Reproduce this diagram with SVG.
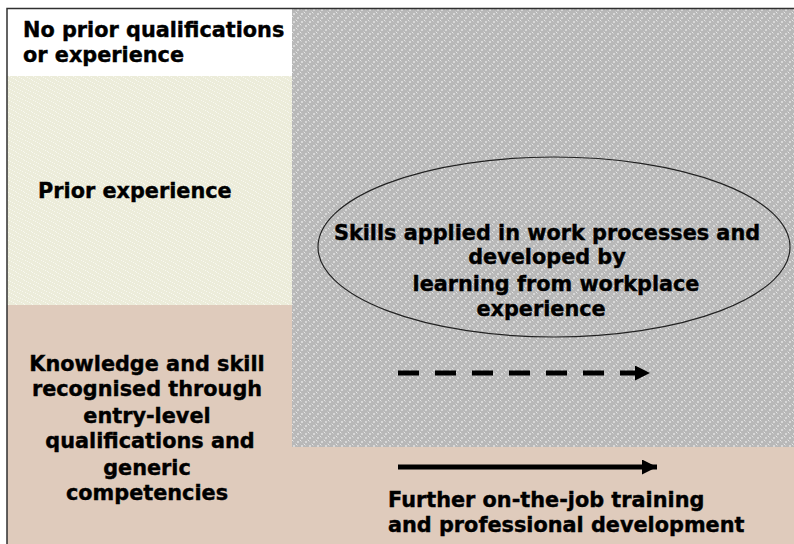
<svg xmlns="http://www.w3.org/2000/svg" width="794" height="544" viewBox="0 0 794 544">
<defs>
<pattern id="grey" width="8" height="8" patternUnits="userSpaceOnUse">
<rect width="8" height="8" fill="#b8b8b8"/>
<rect x="1" y="1" width="2" height="2" fill="#d8d8d8"/>
<rect x="5" y="5" width="2" height="2" fill="#d8d8d8"/>
<rect x="5" y="1" width="1" height="1" fill="#cccccc"/>
<rect x="1" y="5" width="1" height="1" fill="#cccccc"/>
<rect x="0" y="4" width="1" height="1" fill="#e8e8e8"/>
<rect x="4" y="0" width="1" height="1" fill="#e8e8e8"/>
<rect x="7" y="3" width="1" height="1" fill="#c8c8c8"/>
<rect x="3" y="7" width="1" height="1" fill="#c8c8c8"/>
</pattern>
<pattern id="green" width="8" height="8" patternUnits="userSpaceOnUse">
<rect width="8" height="8" fill="#ececda"/>
<rect x="0" y="0" width="1" height="1" fill="#f8f8f0"/>
<rect x="2" y="1" width="1" height="1" fill="#f8f8f0"/>
<rect x="4" y="2" width="1" height="1" fill="#f8f8f0"/>
<rect x="6" y="3" width="1" height="1" fill="#f8f8f0"/>
<rect x="1" y="4" width="1" height="1" fill="#f8f8f0"/>
<rect x="3" y="5" width="1" height="1" fill="#f8f8f0"/>
<rect x="5" y="6" width="1" height="1" fill="#f8f8f0"/>
<rect x="7" y="7" width="1" height="1" fill="#f8f8f0"/>
</pattern>
<marker id="ah" viewBox="0 0 10 10" refX="10" refY="5" markerWidth="3" markerHeight="3" markerUnits="strokeWidth" orient="auto">
<path d="M0,0 L10,5 L0,10 z" fill="#000"/>
</marker>
</defs>
<style>
text{font-family:"DejaVu Sans",Verdana,sans-serif;font-weight:bold;font-size:20.8px;fill:#000;stroke:#000;stroke-width:0.4px}
.c{text-anchor:middle}
</style>
<rect width="794" height="544" fill="#ffffff"/>
<g id="tan-band"><rect x="7" y="305" width="787" height="239" fill="#dfcbbc"/></g>
<g id="no-prior">
<rect x="7" y="9" width="285" height="67" fill="#ffffff"/>
<text x="23" y="37">No prior qualifications</text>
<text x="23" y="62">or experience</text>
</g>
<g id="prior-experience">
<rect x="7" y="76" width="285" height="229" fill="url(#green)"/>
<text x="38" y="198">Prior experience</text>
</g>
<g id="workplace-area">
<rect x="292" y="9" width="502" height="438" fill="url(#grey)"/>
</g>
<g id="frame">
<path d="M7,544 V8.5 H794" fill="none" stroke="#303030" stroke-width="1.5"/>
</g>
<g id="skills">
<ellipse cx="554" cy="247" rx="236" ry="90" fill="none" stroke="#222" stroke-width="1.2"/>
<text class="c" x="547" y="240">Skills applied in work processes and</text>
<text class="c" x="547" y="264">developed by</text>
<text class="c" x="556" y="291">learning from workplace</text>
<text class="c" x="541" y="316">experience</text>
</g>
<g id="knowledge">
<text class="c" x="147" y="371">Knowledge and skill</text>
<text class="c" x="147" y="396">recognised through</text>
<text class="c" x="147" y="423">entry-level</text>
<text class="c" x="150" y="448">qualifications and</text>
<text class="c" x="147" y="475">generic</text>
<text class="c" x="147" y="500">competencies</text>
</g>
<g id="further">
<text x="388" y="507">Further on-the-job training</text>
<text x="388" y="532">and professional development</text>
</g>
<g id="connectors">
<line x1="398" y1="373" x2="650" y2="373" stroke="#000" stroke-width="5" stroke-dasharray="21 16" marker-end="url(#ah)"/>
<line x1="398" y1="467" x2="657" y2="467" stroke="#000" stroke-width="5" marker-end="url(#ah)"/>
</g>
</svg>
